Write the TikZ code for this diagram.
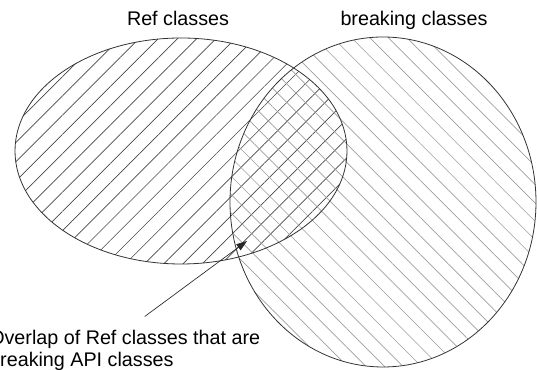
\documentclass[tikz,border=0pt]{standalone}
\usepackage{fontspec}
\setmainfont{Liberation Sans}
\usepackage{tikz}
\usetikzlibrary{positioning,arrows.meta,patterns.meta}
\newcommand{\hatchedset}[6]{
    % hatch lines only, the outline is drawn later over both sets
    \fill[pattern={Lines[angle=#4,distance=#6,line width=0.5pt]}, pattern color=#5]
        (#1) ellipse [x radius=#2, y radius=#3];
}

\begin{document}
\begin{tikzpicture}[x=0.75pt,y=0.75pt,>={Triangle[length=8pt,width=5.5pt]},
    setlabel/.style={font=\fontsize{14.8}{16.5}\selectfont, inner sep=0pt},
    outline/.style={draw=black!80, line width=0.6pt}]

\useasboundingbox (0,0) rectangle (537,370);

% -------------------------
% Conjuntos
% -------------------------
\coordinate (refc) at (181,219);
\coordinate (brkc) at (383,168);

\hatchedset{refc}{166}{113}{45}{black!72}{10.2pt}
\hatchedset{brkc}{153}{165}{-45}{black!38}{9.8pt}

\draw[outline] (refc) ellipse [x radius=166, y radius=113];
\draw[outline] (brkc) ellipse [x radius=153, y radius=165];

% -------------------------
% Rótulos
% -------------------------
\node[setlabel, anchor=base] (reflabel) at (178,344) {Ref classes};
\node[setlabel, anchor=base] (brklabel) at (414,344) {breaking classes};
\node[setlabel, anchor=north west, align=left] (note) at (-11,40.5)
    {Overlap of Ref classes that are\\breaking API classes};

% -------------------------
% Seta para a interseção
% -------------------------
\coordinate (tip) at (247,129);
\draw[->, black!85, line width=0.5pt] ([shift={(20,13)}]note.north) -- (tip);

\end{tikzpicture}
\end{document}
